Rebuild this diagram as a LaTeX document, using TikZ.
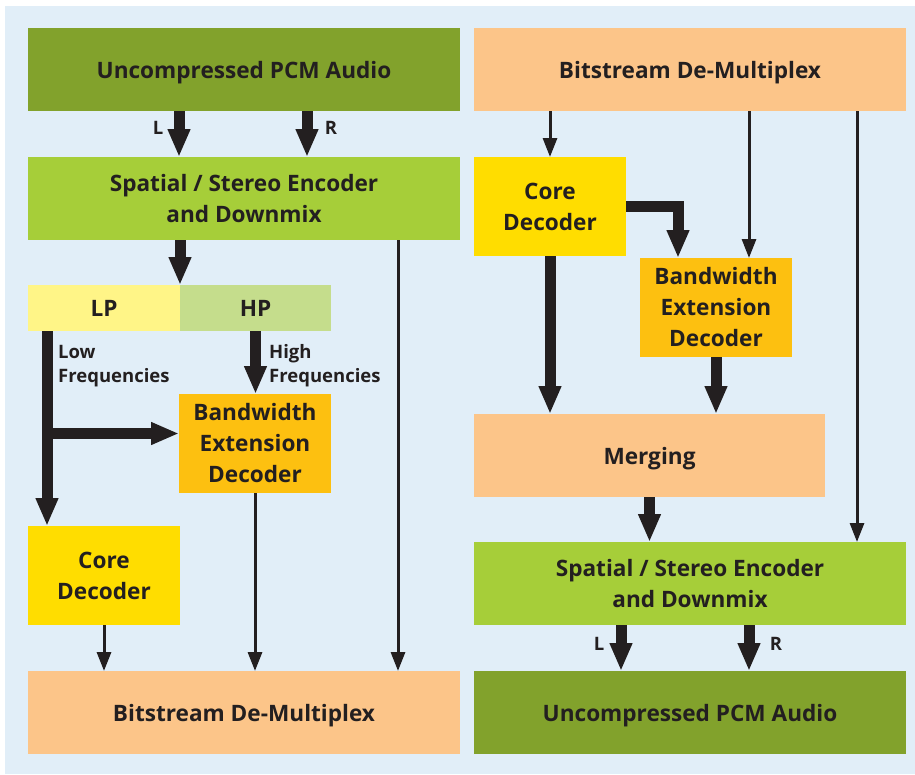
\documentclass[tikz,border=0pt]{standalone}
\usepackage{fontspec}
\setmainfont{Open Sans}
\usetikzlibrary{arrows.meta,calc}
\definecolor{bgc}{HTML}{E1EEF8}
\definecolor{dkgreen}{HTML}{82A22C}
\definecolor{ltgreen}{HTML}{A6CE39}
\definecolor{peach}{HTML}{FCC589}
\definecolor{coreyel}{HTML}{FFDD00}
\definecolor{bweorg}{HTML}{FDC010}
\definecolor{lpyel}{HTML}{FFF587}
\definecolor{hpgrn}{HTML}{C5DD8C}
\definecolor{txt}{HTML}{231F20}
\begin{document}
\begin{tikzpicture}[x=1pt,y=-1pt,
  blk/.style={draw=none, inner sep=0pt, outer sep=0pt, align=center, text=txt,
    font=\bfseries\fontsize{22.6}{31}\selectfont},
  oneline/.style={text depth=0pt},
  lbl/.style={inner sep=0pt, text=txt, font=\bfseries\fontsize{18.5}{24}\selectfont},
  thickarrow/.style={draw=txt, line width=11pt, -{Triangle[width=21pt,length=28pt]}},
  thinarrow/.style={draw=txt, line width=3pt, -{Triangle[width=14pt,length=19pt]}},
]
\useasboundingbox (0,0) rectangle (915,774);
\fill[bgc] (5,6) rectangle (915,774);

% left column
\node[blk, oneline, fill=dkgreen, minimum width=432pt, minimum height=83pt] (pcmL) at (244,69.5) {Uncompressed PCM Audio};
\node[blk, fill=ltgreen, minimum width=432pt, minimum height=83pt] (encL) at (244,198.5) {Spatial / Stereo Encoder\\and Downmix};
\node[blk, fill=lpyel, minimum width=152pt, minimum height=46pt] (lp) at (104,308) {LP};
\node[blk, fill=hpgrn, minimum width=151pt, minimum height=46pt] (hp) at (255.5,308) {HP};
\node[blk, fill=bweorg, minimum width=152pt, minimum height=99pt] (bweL) at (255,443.5) {Bandwidth\\Extension\\Decoder};
\node[blk, fill=coreyel, minimum width=152pt, minimum height=99pt] (coreL) at (104,575.5) {Core\\Decoder};
\node[blk, oneline, fill=peach, minimum width=432pt, minimum height=83pt] (bsL) at (244,712.5) {Bitstream De-Multiplex};

% right column
\node[blk, oneline, fill=peach, minimum width=432pt, minimum height=83pt] (bsR) at (690,69.5) {Bitstream De-Multiplex};
\node[blk, fill=coreyel, minimum width=152pt, minimum height=99pt] (coreR) at (550,206.5) {Core\\Decoder};
\node[blk, fill=bweorg, minimum width=152pt, minimum height=99pt] (bweR) at (716,307.5) {Bandwidth\\Extension\\Decoder};
\node[blk, oneline, fill=peach, minimum width=351pt, minimum height=83pt] (merge) at (649.5,455.5) {Merging};
\node[blk, fill=ltgreen, minimum width=432pt, minimum height=83pt] (encR) at (690,583.5) {Spatial / Stereo Encoder\\and Downmix};
\node[blk, oneline, fill=dkgreen, minimum width=432pt, minimum height=83pt] (pcmR) at (690,712.5) {Uncompressed PCM Audio};

% labels
\node[lbl] (lL) at (158,128) {L};
\node[lbl] (rL) at (331,128) {R};
\node[lbl, anchor=west, align=left] (lowf) at (58,366) {Low\\Frequencies};
\node[lbl, anchor=west, align=left] (highf) at (269,366) {High\\Frequencies};
\node[lbl] (lR) at (599,644) {L};
\node[lbl] (rR) at (776,644) {R};

% left connectors
\coordinate (lowx) at ([xshift=19pt]lp.south west);
\coordinate (bweLbr) at ([yshift=10pt]bweL.west);
\draw[thickarrow] ([xshift=151pt]pcmL.south west) -- ([xshift=151pt]encL.north west);
\draw[thickarrow] ([xshift=279pt]pcmL.south west) -- ([xshift=279pt]encL.north west);
\draw[thickarrow] (encL.south -| lp.north east) -- (lp.north east);
\draw[thinarrow] ([xshift=370pt]encL.south west) -- ([xshift=370pt]bsL.north west);
\draw[thickarrow] (lowx) -- (lowx |- coreL.north);
\draw[thickarrow] (lowx |- bweLbr) -- (bweLbr);
\draw[thickarrow] (hp.south) -- (hp.south |- bweL.north);
\draw[thinarrow] (bweL.south) -- (bweL.south |- bsL.north);
\draw[thinarrow] (coreL.south) -- (coreL.south |- bsL.north);

% right connectors
\coordinate (bwtop) at ([xshift=33pt]bweR.north);
\coordinate (sidex) at ([xshift=167pt]encR.north);
\coordinate (bwin) at ([xshift=-38pt]bweR.north);
\draw[thinarrow] (coreR.north |- bsR.south) -- (coreR.north);
\draw[thinarrow] (bwtop |- bsR.south) -- (bwtop);
\draw[thinarrow] (sidex |- bsR.south) -- (sidex);
\draw[thickarrow, line join=miter] (coreR.east) -| (bwin);
\draw[thickarrow] (coreR.south) -- (coreR.south |- merge.north);
\draw[thickarrow] (bweR.south) -- (bweR.south |- merge.north);
\draw[thickarrow] (merge.south) -- (merge.south |- encR.north);
\draw[thickarrow] ([xshift=147pt]encR.south west) -- ([xshift=147pt]pcmR.north west);
\draw[thickarrow] ([xshift=275pt]encR.south west) -- ([xshift=275pt]pcmR.north west);
\end{tikzpicture}
\end{document}
